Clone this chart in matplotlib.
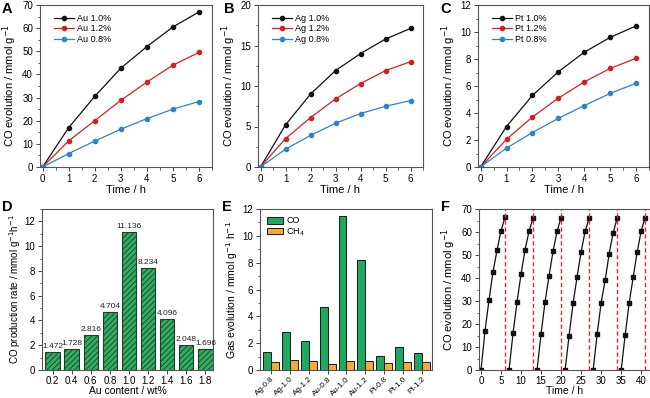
import numpy as np
import matplotlib
matplotlib.use("Agg")
import matplotlib.pyplot as plt
from matplotlib.ticker import AutoMinorLocator, MultipleLocator

plt.rcParams['font.family'] = ['Liberation Sans', 'DejaVu Sans']
plt.rcParams['hatch.color'] = '#1a5c30'
plt.rcParams['hatch.linewidth'] = 0.6

# data
hours = [0, 1, 2, 3, 4, 5, 6]
au_10 = [0, 17.0, 30.5, 42.7, 52.0, 60.5, 67.0]
au_12 = [0, 11.3, 20.0, 28.8, 36.7, 44.0, 49.5]
au_08 = [0, 5.8, 11.2, 16.3, 20.9, 25.0, 28.3]
ag_10 = [0, 5.2, 9.0, 11.9, 14.0, 15.8, 17.1]
ag_12 = [0, 3.5, 6.1, 8.4, 10.3, 11.9, 13.0]
ag_08 = [0, 2.2, 3.9, 5.4, 6.6, 7.5, 8.2]
pt_10 = [0, 3.0, 5.3, 7.05, 8.5, 9.6, 10.45]
pt_12 = [0, 2.05, 3.7, 5.1, 6.3, 7.3, 8.05]
pt_08 = [0, 1.4, 2.55, 3.6, 4.55, 5.45, 6.2]

au_content = ['0.2', '0.4', '0.6', '0.8', '1.0', '1.2', '1.4', '1.6', '1.8']
co_rate = [1.472, 1.728, 2.816, 4.704, 11.136, 8.234, 4.096, 2.048, 1.696]

samples = ['Ag-0.8', 'Ag-1.0', 'Ag-1.2', 'Au-0.8', 'Au-1.0', 'Au-1.2', 'Pt-0.8', 'Pt-1.0', 'Pt-1.2']
gas_co = [1.35, 2.85, 2.15, 4.7, 11.5, 8.2, 1.05, 1.75, 1.3]
gas_ch4 = [0.6, 0.75, 0.65, 0.42, 0.65, 0.65, 0.55, 0.6, 0.6]

cycle_starts = [0, 7, 14, 21, 28, 35]
cycles = [
    [0, 17.0, 30.5, 42.7, 52.0, 60.5, 66.5],
    [0, 16.0, 29.5, 41.7, 52.3, 60.3, 66.0],
    [0, 15.8, 29.7, 41.0, 51.7, 60.3, 66.3],
    [0, 15.0, 29.2, 40.5, 51.4, 60.3, 66.0],
    [0, 15.5, 29.3, 39.0, 50.5, 59.7, 66.0],
    [0, 15.2, 29.2, 40.3, 51.3, 60.5, 66.3],
]

W, H = 650, 398
fig = plt.figure(figsize=(6.5, 3.98), dpi=100)


def make_ax(left, right, top, bottom):
    return fig.add_axes([left / W, (H - bottom) / H, (right - left) / W, (bottom - top) / H])


def style(ax):
    for s in ax.spines.values():
        s.set_color('#555555')
        s.set_linewidth(0.8)
    ax.tick_params(labelsize=7, length=3, width=0.7, color='#444444', pad=2)
    ax.tick_params(which='minor', length=1.8, width=0.6, color='#444444')


def letter(x, y, s):
    fig.text(x / W, 1 - y / H, s, fontsize=10.5, fontweight='bold', ha='left', va='top')


black, red, blue = '#111111', '#d42020', '#2a86c8'


def kinetics(ax, series, labels, ymax, ystep):
    for vals, lab, c in zip(series, labels, [black, red, blue]):
        ax.plot(hours, vals, '-o', color=c, lw=0.9, ms=3, label=lab)
    ax.set_xlim(-0.1, 6.5)
    ax.set_ylim(0, ymax)
    ax.xaxis.set_major_locator(MultipleLocator(1))
    ax.yaxis.set_major_locator(MultipleLocator(ystep))
    ax.xaxis.set_minor_locator(AutoMinorLocator(2))
    ax.yaxis.set_minor_locator(AutoMinorLocator(2))
    ax.set_xlabel('Time / h', fontsize=8, labelpad=1)
    ax.set_ylabel('CO evolution / mmol g$^{-1}$', fontsize=8, labelpad=2)
    ax.legend(loc='upper left', frameon=False, fontsize=6.5, handlelength=2.2,
              handletextpad=0.3, labelspacing=0.15, borderaxespad=0.6, bbox_to_anchor=(0.03, 1.0))
    style(ax)


axA = make_ax(40, 212, 5, 167)
kinetics(axA, [au_10, au_12, au_08], ['Au 1.0%', 'Au 1.2%', 'Au 0.8%'], 70, 10)
axB = make_ax(258, 423, 5, 167)
kinetics(axB, [ag_10, ag_12, ag_08], ['Ag 1.0%', 'Ag 1.2%', 'Ag 0.8%'], 20, 5)
axC = make_ax(478, 649, 5, 167)
kinetics(axC, [pt_10, pt_12, pt_08], ['Pt 1.0%', 'Pt 1.2%', 'Pt 0.8%'], 12, 2)

letter(2, 2, 'A')
letter(224, 2, 'B')
letter(440, 2, 'C')

# D
axD = make_ax(42, 213, 209, 370)
xd = np.arange(len(au_content))
axD.bar(xd, co_rate, width=0.75, color='#2fae62', edgecolor='#1f3d2a', linewidth=0.8, hatch='//////')
for x, v in zip(xd, co_rate):
    axD.text(x, v + 0.15, f'{v:.3f}', ha='center', va='bottom', fontsize=6, color='#222222')
axD.set_xlim(-0.55, 8.4)
axD.set_ylim(0, 13)
axD.set_xticks(xd)
axD.set_xticklabels(au_content)
axD.yaxis.set_major_locator(MultipleLocator(2))
axD.yaxis.set_minor_locator(AutoMinorLocator(2))
axD.set_xlabel('Au content / wt%', fontsize=7.5, labelpad=0)
axD.set_ylabel('CO production rate / mmol g$^{-1}$h$^{-1}$', fontsize=7, labelpad=1)
style(axD)
axD.tick_params(axis='x', pad=1.5)
letter(2, 200, 'D')

# E
axE = make_ax(260, 432, 209, 370)
xe = np.arange(len(samples))
bw = 0.42
axE.bar(xe - bw / 2, gas_co, width=bw, color='#1fa860', edgecolor='#1a1a1a', linewidth=0.7, label='CO')
axE.bar(xe + bw / 2, gas_ch4, width=bw, color='#f7a935', edgecolor='#1a1a1a', linewidth=0.7, label='CH$_4$')
axE.set_xlim(-0.58, 8.53)
axE.set_ylim(0, 12)
axE.set_xticks(xe)
axE.set_xticklabels(samples, rotation=45, ha='right', rotation_mode='anchor', fontsize=5.8)
axE.yaxis.set_major_locator(MultipleLocator(2))
axE.yaxis.set_minor_locator(AutoMinorLocator(2))
axE.set_ylabel('Gas evolution / mmol g$^{-1}$ h$^{-1}$', fontsize=7.5, labelpad=2)
axE.legend(loc='upper left', frameon=False, fontsize=6.5, handlelength=1.8, handleheight=0.8,
           handletextpad=0.3, labelspacing=0.1, borderaxespad=0.4)
style(axE)
axE.tick_params(axis='x', pad=1, labelsize=5.8)
letter(222, 200, 'E')

# F
axF = make_ax(479, 650, 209, 370)
for start, vals in zip(cycle_starts, cycles):
    t = [start + h for h in hours]
    axF.plot(t, vals, '-s', color=black, lw=0.9, ms=2.8)
    axF.axvline(t[-1], color='#e8262a', ls='--', lw=1.0, dashes=(3, 2))
axF.set_xlim(-0.5, 42.2)
axF.set_ylim(0, 70)
axF.xaxis.set_major_locator(MultipleLocator(5))
axF.yaxis.set_major_locator(MultipleLocator(10))
axF.yaxis.set_minor_locator(AutoMinorLocator(2))
axF.set_xlabel('Time / h', fontsize=7.5, labelpad=0)
axF.set_ylabel('CO evolution / mmol g$^{-1}$', fontsize=8, labelpad=2)
style(axF)
axF.tick_params(axis='x', pad=1.5)
letter(441, 200, 'F')

fig.savefig('out.png', dpi=100)
